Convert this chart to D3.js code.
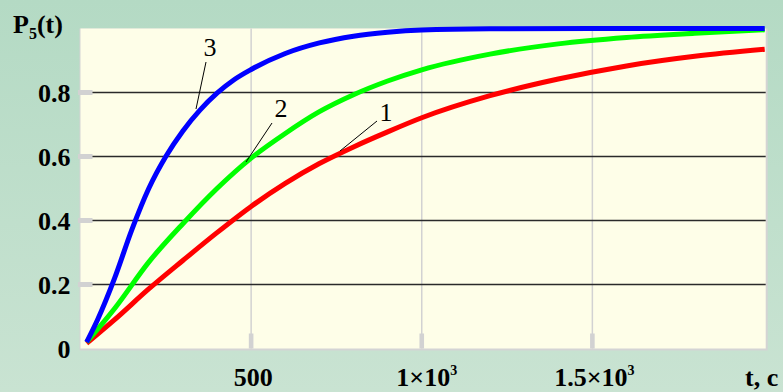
<!DOCTYPE html>
<html>
<head>
<meta charset="utf-8">
<script src="https://cdn.jsdelivr.net/npm/d3@7"></script>
<style>
  body { margin: 0; }
  svg { display: block; }
  .axisText { font-family: "Liberation Serif", "Times New Roman", serif; font-weight: bold; font-size: 26px; fill: #000; }
  .curveLabel { font-family: "Liberation Serif", "Times New Roman", serif; font-size: 26px; fill: #000; }
</style>
</head>
<body>
<div id="chart"></div>
<script>
// data: t (seconds) and P5(t)
var t1 = [18, 100, 200, 300, 400, 500, 600, 700, 800, 900, 1000, 1200, 1400, 1600, 1800, 2005];
var p1 = [0.016, 0.090, 0.186, 0.275, 0.362, 0.444, 0.516, 0.578, 0.630, 0.677, 0.721, 0.790, 0.842, 0.883, 0.913, 0.935];

var t2 = [18, 100, 200, 300, 400, 500, 600, 700, 800, 900, 1000, 1200, 1400, 1600, 1800, 2005];
var p2 = [0.02, 0.125, 0.27, 0.39, 0.50, 0.595, 0.672, 0.740, 0.793, 0.836, 0.871, 0.920, 0.952, 0.972, 0.985, 0.996];

var t3 = [18, 50, 100, 150, 200, 250, 300, 350, 400, 450, 500, 600, 700, 800, 900, 1000, 1200, 1500, 2005];
var p3 = [0.02, 0.09, 0.22, 0.37, 0.50, 0.60, 0.68, 0.745, 0.798, 0.84, 0.872, 0.922, 0.955, 0.976, 0.988, 0.995, 0.999, 1.0, 1.0];

var yTicks = [0, 0.2, 0.4, 0.6, 0.8];
var yTickLabels = ["0", "0.2", "0.4", "0.6", "0.8"];
var xTicks = [500, 1000, 1500];
var xTickLabels = [["500", ""], ["1\u00d710", "3"], ["1.5\u00d710", "3"]];

var series = [
  { name: "1", t: t1, p: p1, color: "#ff0000" },
  { name: "2", t: t2, p: p2, color: "#00ff00" },
  { name: "3", t: t3, p: p3, color: "#0000ff" }
];

var svgWidth = 783;
var svgHeight = 392;
var margin = { top: 28.5, right: 20, bottom: 43.5, left: 80.5 };
var width = 763 - margin.left;
var height = svgHeight - margin.top - margin.bottom;

var svg = d3.select("#chart")
  .append("svg")
  .attr("width", svgWidth)
  .attr("height", svgHeight);

var grad = svg.append("defs").append("linearGradient")
  .attr("id", "bg")
  .attr("x1", 0).attr("y1", 0).attr("x2", 0).attr("y2", 1);
grad.append("stop").attr("offset", "0%").attr("stop-color", "#b4dac4");
grad.append("stop").attr("offset", "100%").attr("stop-color", "#c9e3d2");

svg.append("rect")
  .attr("width", svgWidth)
  .attr("height", svgHeight)
  .attr("fill", "url(#bg)");

var x = d3.scaleLinear().domain([0, 2000]).range([0, width]);
var y = d3.scaleLinear().domain([0, 1]).range([height, 0]);

var chartGroup = svg.append("g")
  .attr("transform", `translate(${margin.left}, ${margin.top})`);

// plot area with a light shadow on right/bottom
chartGroup.append("rect")
  .attr("x", -1).attr("y", 0)
  .attr("width", x(2005) + 4).attr("height", height + 2)
  .attr("fill", "#d4d4d4");
chartGroup.append("rect")
  .attr("x", 0).attr("y", 0)
  .attr("width", x(2005) + 1).attr("height", height)
  .attr("fill", "#fefee8");

// vertical grid
chartGroup.selectAll(".vgrid")
  .data(xTicks)
  .enter()
  .append("line")
  .attr("x1", d => x(d)).attr("x2", d => x(d))
  .attr("y1", 0).attr("y2", height)
  .attr("stroke", "#d2d2d2")
  .attr("stroke-width", 1.5);

// horizontal grid
chartGroup.selectAll(".hgrid")
  .data(yTicks.slice(1))
  .enter()
  .append("line")
  .attr("x1", 0).attr("x2", x(2005) + 1)
  .attr("y1", d => y(d)).attr("y2", d => y(d))
  .attr("stroke", "#2a2a2a")
  .attr("stroke-width", 1.3);

// tick marks
chartGroup.selectAll(".ytick")
  .data(yTicks.slice(1))
  .enter()
  .append("rect")
  .attr("x", -2.5).attr("y", d => y(d) - 2.5)
  .attr("width", 14.5).attr("height", 5)
  .attr("fill", "#d2d2d2");

chartGroup.selectAll(".xtick")
  .data(xTicks)
  .enter()
  .append("rect")
  .attr("x", d => x(d) - 2.3).attr("y", height - 15)
  .attr("width", 4.6).attr("height", 15)
  .attr("fill", "#d2d2d2");

// curves
var line = d3.line()
  .x(d => x(d[0]))
  .y(d => y(d[1]))
  .curve(d3.curveMonotoneX);

series.forEach(function(s) {
  var pts = s.t.map((t, i) => [t, s.p[i]]);
  chartGroup.append("path")
    .datum(pts)
    .attr("d", line)
    .attr("fill", "none")
    .attr("stroke", s.color)
    .attr("stroke-width", 5);
});

// curve labels with leader lines (label pos, point on curve)
var labelData = [
  { text: "1", lx: 386, ly: 121, x1: 377, y1: 121, x2: 340, y2: 151 },
  { text: "2", lx: 281, ly: 117, x1: 272, y1: 123, x2: 246, y2: 162 },
  { text: "3", lx: 210, ly: 56, x1: 206, y1: 62, x2: 196, y2: 109 }
];
labelData.forEach(function(d) {
  svg.append("line")
    .attr("x1", d.x1).attr("y1", d.y1)
    .attr("x2", d.x2).attr("y2", d.y2)
    .attr("stroke", "#000").attr("stroke-width", 1);
  svg.append("text")
    .attr("class", "curveLabel")
    .attr("x", d.lx).attr("y", d.ly)
    .attr("text-anchor", "middle")
    .text(d.text);
});

// y tick labels
chartGroup.selectAll(".ylab")
  .data(yTicks)
  .enter()
  .append("text")
  .attr("class", "axisText")
  .attr("x", -10)
  .attr("y", d => y(d) + 9.5)
  .attr("text-anchor", "end")
  .text((d, i) => yTickLabels[i]);

// x tick labels
xTicks.forEach(function(d, i) {
  var t = chartGroup.append("text")
    .attr("class", "axisText")
    .attr("x", x(d) + (i == 1 ? 5 : 2))
    .attr("y", height + 37.5)
    .attr("text-anchor", "middle");
  t.append("tspan").text(xTickLabels[i][0]);
  if (xTickLabels[i][1]) {
    t.append("tspan")
      .attr("dy", -11)
      .attr("font-size", "14px")
      .text(xTickLabels[i][1]);
  }
});

// axis titles
svg.append("text")
  .attr("class", "axisText")
  .attr("x", 745)
  .attr("y", 386)
  .text("t, c");

var yTitle = svg.append("text")
  .attr("class", "axisText")
  .attr("x", 13)
  .attr("y", 33);
yTitle.append("tspan").text("P");
yTitle.append("tspan").attr("dy", 6).attr("font-size", "16px").text("5");
yTitle.append("tspan").attr("dy", -6).text("(t)");
</script>
</body>
</html>
